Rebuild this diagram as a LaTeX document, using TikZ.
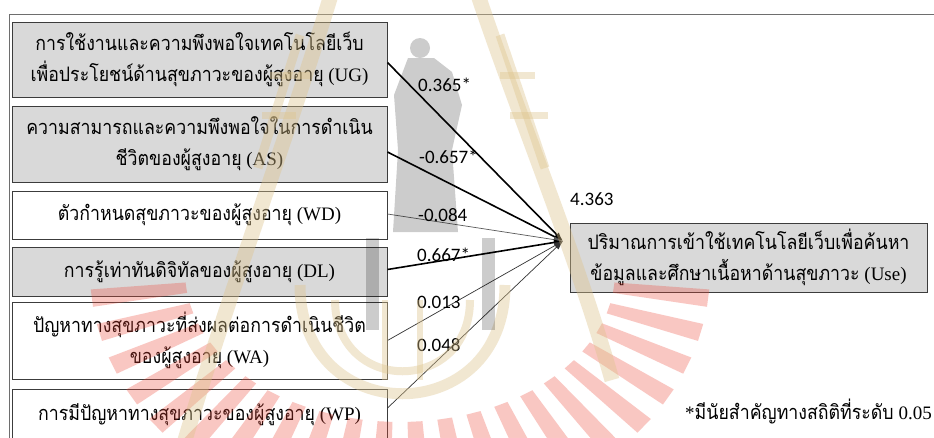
\documentclass[tikz,border=0pt]{standalone}
\usepackage{fontspec}
\usepackage{graphicx}
\setmainfont{Liberation Serif}
\newfontfamily\thaifont[Script=Thai,Scale=1.05]{Loma}
\newfontfamily\numfont{Carlito}
\usetikzlibrary{arrows.meta,calc}
% Thai runs are set a little narrower so that their height suits the Latin text
\newcommand\thtxt[1]{\scalebox{0.89}[1]{\thaifont #1}}

\definecolor{boxline}{RGB}{60,60,60}
\definecolor{boxgray}{RGB}{217,217,217}
\definecolor{framegray}{RGB}{110,110,110}
\definecolor{wmtan}{RGB}{222,196,140}
\definecolor{wmred}{RGB}{238,70,55}

\tikzset{
  varbox/.style={draw=boxline, line width=1pt, minimum width=375pt,
    inner sep=0pt, align=center, text=black,
    font=\fontsize{19}{31}\selectfont},
  shaded/.style={varbox, fill=boxgray},
  plain/.style={varbox, fill=white},
  sigpath/.style={draw=black, line width=1.6pt,
    -{Latex[length=9pt,width=6pt]}},
  nspath/.style={draw=black!80, line width=0.7pt,
    -{Latex[length=9pt,width=6pt]}},
  coef/.style={anchor=west, inner sep=0pt, font=\numfont\fontsize{19}{19}\selectfont},
}

\begin{document}
\begin{tikzpicture}[x=1pt,y=-1pt]
\useasboundingbox (0,0) rectangle (934,437);
\fill[white] (0,0) rectangle (934,437);

% outer frame
\draw[framegray, line width=1pt] (9,440) -- (9,14) -- (940,14);

% independent variables
\node[shaded, minimum height=75pt] (UG) at (199.5,59.5)
  {\thtxt{การใช้งานและความพึงพอใจเทคโนโลยีเว็บ}\\\thtxt{เพื่อประโยชน์ด้านสุขภาวะของผู้สูงอายุ} (UG)};
\node[shaded, minimum height=76pt] (AS) at (199.5,144)
  {\thtxt{ความสามารถและความพึงพอใจในการดำเนิน}\\\thtxt{ชีวิตของผู้สูงอายุ} (AS)};
\node[plain, minimum height=48pt] (WD) at (199.5,215)
  {\thtxt{ตัวกำหนดสุขภาวะของผู้สูงอายุ} (WD)};
\node[shaded, minimum height=49pt] (DL) at (199.5,271.5)
  {\thtxt{การรู้เท่าทันดิจิทัลของผู้สูงอายุ} (DL)};
\node[plain, minimum height=77pt] (WA) at (199.5,340.5)
  {\thtxt{ปัญหาทางสุขภาวะที่ส่งผลต่อการดำเนินชีวิต}\\\thtxt{ของผู้สูงอายุ} (WA)};
\node[plain, minimum height=52pt] (WP) at (199.5,415)
  {\thtxt{การมีปัญหาทางสุขภาวะของผู้สูงอายุ} (WP)};

% dependent variable
\node[shaded, minimum width=357pt, minimum height=69pt] (Use) at (748.5,257.5)
  {\thtxt{ปริมาณการเข้าใช้เทคโนโลยีเว็บเพื่อค้นหา}\\\thtxt{ข้อมูลและศึกษาเนื้อหาด้านสุขภาวะ} (Use)};
\node[coef] (r2) at (570,199) {4.363};

% paths
\coordinate (hub) at (563,241);
\draw[sigpath] ([yshift=-3pt]UG.east) -- (hub);
\draw[sigpath] ([yshift=-8pt]AS.east) -- (hub);
\draw[nspath, draw=black!65] ([yshift=1pt]WD.east) -- (hub);
\draw[sigpath] ([yshift=2pt]DL.east) -- (hub);
\draw[nspath] (WA.east) -- (hub);
\draw[nspath] ([yshift=7pt]WP.east) -- (hub);

\node[coef] (cUG) at (418,85) {0.365*};
\node[coef] (cAS) at (419,157) {-0.657*};
\node[coef] (cWD) at (418,215) {-0.084};
\node[coef] (cDL) at (417,255) {0.667*};
\node[coef] (cWA) at (417,302) {0.013};
\node[coef] (cWP) at (417,345) {0.048};

% note
\node[anchor=east, inner sep=0pt, font=\fontsize{19}{19}\selectfont] (note) at (932,412)
  {*\thtxt{มีนัยสำคัญทางสถิติที่ระดับ} 0.05};

% university emblem in the page background
\begin{scope}
  % sun rays round the lower half
  \coordinate (sun) at (400,272);
  \foreach \a in {4,12,...,176} {
    \fill[wmred, fill opacity=0.3]
      ($(sun)+({215*cos(\a)},{150*sin(\a)})$)
      -- ($(sun)+({310*cos(\a)},{250*sin(\a)})$)
      -- ($(sun)+({310*cos(\a+4)},{250*sin(\a+4)})$)
      -- ($(sun)+({215*cos(\a+4)},{150*sin(\a+4)})$) -- cycle;
  }
  % temple roof with ladders
  \begin{scope}[draw opacity=0.4, line cap=butt]
    \draw[wmtan, line width=15pt] (331,-5) .. controls (290,130) and (230,290) .. (185,440);
    \draw[wmtan, line width=15pt] (478,-5) .. controls (520,120) and (575,250) .. (612,380);
    \draw[wmtan, line width=9pt] (300,35) -- (258,168);
    \draw[wmtan, line width=9pt] (500,35) -- (545,168);
    \draw[wmtan, line width=7pt] (270,75) -- (310,75) (262,115) -- (296,115)
      (500,75) -- (535,75) (510,115) -- (548,115);
    % bowl
    \draw[wmtan, line width=11pt] (300,285) .. controls (300,430) and (505,430) .. (505,285);
    \draw[wmtan, line width=8pt] (335,300) .. controls (335,395) and (470,395) .. (470,300);
    \draw[wmtan, line width=6pt] (385,300) -- (385,380) (420,300) -- (420,380);
  \end{scope}
  % figure
  \begin{scope}[fill opacity=0.2, draw opacity=0.2]
    \fill[black] (420,48) circle (10);
    \fill[black] (408,58) -- (434,58) -- (452,72) -- (462,105) -- (452,150)
      -- (458,232) -- (393,232) -- (398,150) -- (394,95) -- cycle;
    \draw[black, line width=13pt] (372,238) -- (372,330);
    \draw[black, line width=13pt] (488,238) -- (488,330);
  \end{scope}
\end{scope}
\end{tikzpicture}
\end{document}
